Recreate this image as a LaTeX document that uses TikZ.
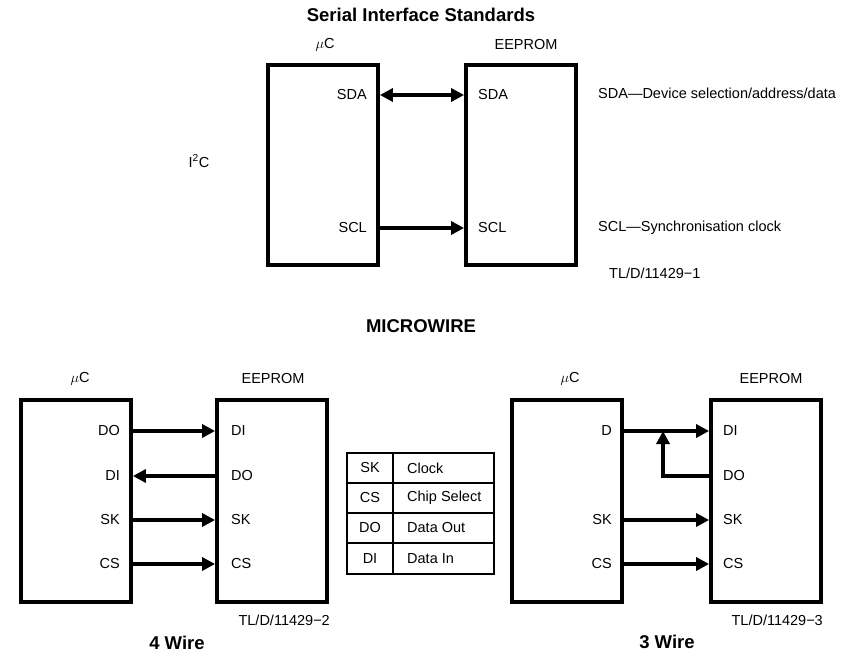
\documentclass[tikz,border=0pt]{standalone}
\usepackage{fontspec}
\setmainfont{Liberation Sans}
\usetikzlibrary{arrows.meta}
\tikzset{
  chip/.style={draw, line width=3.8pt, inner sep=0pt},
  bus/.style={line width=3.2pt, -{Triangle[length=13pt,width=13pt]}},
  pinlbl/.style={font=\fontsize{14.5}{17}\selectfont, inner sep=0pt},
  lbl/.style={font=\fontsize{14.5}{17}\selectfont, inner sep=0pt},
  head/.style={font=\fontsize{18.5}{22}\selectfont\bfseries, inner sep=0pt},
  grid/.style={line width=1.2pt},
}
\begin{document}
\begin{tikzpicture}[x=1pt,y=-1pt]
  \useasboundingbox (0,0) rectangle (849,658);

  % I2C
  \node[head] (ttl) at (421,15) {Serial Interface Standards};
  \node[chip, minimum width=110pt, minimum height=200pt] (uc1) at (323,165) {};
  \node[chip, minimum width=110pt, minimum height=200pt] (ee1) at (521,165) {};
  \node[lbl] (uclbl1) at (325,45) {$\mu$C};
  \node[lbl] (eelbl1) at (526,45) {EEPROM};
  \node[lbl] (itc) at (199,161) {I\textsuperscript{2}C};
  \node[pinlbl, anchor=east] (ucsda) at (367,95) {SDA};
  \node[pinlbl, anchor=east] (ucscl) at (367,228) {SCL};
  \node[pinlbl, anchor=west] (eesda) at (478,95) {SDA};
  \node[pinlbl, anchor=west] (eescl) at (478,228) {SCL};
  \draw[bus, {Triangle[length=13pt,width=13pt]}-{Triangle[length=13pt,width=13pt]}]
    (uc1.east |- ucsda) -- (ee1.west |- eesda);
  \draw[bus] (uc1.east |- ucscl) -- (ee1.west |- eescl);
  \node[lbl, anchor=west] (dsda) at (598,93) {SDA—Device selection/address/data};
  \node[lbl, anchor=west] (dscl) at (598,228) {SCL—Synchronisation clock};
  \node[lbl, anchor=west] (tl1) at (609,273) {TL/D/11429−1};

  \node[head] (mw) at (421,326) {MICROWIRE};

  % 4 wire
  \node[chip, minimum width=110pt, minimum height=202pt] (uc2) at (76,501) {};
  \node[chip, minimum width=110pt, minimum height=202pt] (ee2) at (272,501) {};
  \node[lbl] (uclbl2) at (80,379) {$\mu$C};
  \node[lbl] (eelbl2) at (273,379) {EEPROM};
  \node[pinlbl, anchor=east] (ucdo2) at (120,431) {DO};
  \node[pinlbl, anchor=east] (ucdi2) at (120,476) {DI};
  \node[pinlbl, anchor=east] (ucsk2) at (120,520) {SK};
  \node[pinlbl, anchor=east] (uccs2) at (120,564) {CS};
  \node[pinlbl, anchor=west] (eedi2) at (231,431) {DI};
  \node[pinlbl, anchor=west] (eedo2) at (231,476) {DO};
  \node[pinlbl, anchor=west] (eesk2) at (231,520) {SK};
  \node[pinlbl, anchor=west] (eecs2) at (231,564) {CS};
  \draw[bus] (uc2.east |- ucdo2) -- (ee2.west |- eedi2);
  \draw[bus] (ee2.west |- eedo2) -- (uc2.east |- ucdi2);
  \draw[bus] (uc2.east |- ucsk2) -- (ee2.west |- eesk2);
  \draw[bus] (uc2.east |- uccs2) -- (ee2.west |- eecs2);
  \node[lbl, anchor=east] (tl2) at (330,620) {TL/D/11429−2};
  \node[head] (w4) at (177,643) {4 Wire};

  % table
  \draw[grid] (347,453) rectangle (494,574);
  \draw[grid] (393,453) -- (393,574);
  \foreach \y in {483,513,543} \draw[grid] (347,\y) -- (494,\y);
  \node[lbl] (tsk) at (370,468) {SK};
  \node[lbl] (tcs) at (370,498) {CS};
  \node[lbl] (tdo) at (370,528) {DO};
  \node[lbl] (tdi) at (370,558.5) {DI};
  \node[lbl, anchor=west] (tclk) at (407,468) {Clock};
  \node[lbl, anchor=west] (tsel) at (407,498) {Chip Select};
  \node[lbl, anchor=west] (tout) at (407,528) {Data Out};
  \node[lbl, anchor=west] (tin) at (407,558.5) {Data In};

  % 3 wire
  \node[chip, minimum width=110pt, minimum height=202pt] (uc3) at (567,501) {};
  \node[chip, minimum width=110pt, minimum height=202pt] (ee3) at (766,501) {};
  \node[lbl] (uclbl3) at (570,379) {$\mu$C};
  \node[lbl] (eelbl3) at (771,379) {EEPROM};
  \node[pinlbl, anchor=east] (ucd3) at (612,431) {D};
  \node[pinlbl, anchor=east] (ucsk3) at (612,520) {SK};
  \node[pinlbl, anchor=east] (uccs3) at (612,564) {CS};
  \node[pinlbl, anchor=west] (eedi3) at (723,431) {DI};
  \node[pinlbl, anchor=west] (eedo3) at (723,476) {DO};
  \node[pinlbl, anchor=west] (eesk3) at (723,520) {SK};
  \node[pinlbl, anchor=west] (eecs3) at (723,564) {CS};
  \coordinate (jn) at (663,431);
  \draw[bus] (uc3.east |- ucd3) -- (ee3.west |- eedi3);
  \draw[bus] (ee3.west |- eedo3) -| (jn);
  \draw[bus] (uc3.east |- ucsk3) -- (ee3.west |- eesk3);
  \draw[bus] (uc3.east |- uccs3) -- (ee3.west |- eecs3);
  \node[lbl, anchor=east] (tl3) at (823,620) {TL/D/11429−3};
  \node[head] (w3) at (667,642) {3 Wire};
\end{tikzpicture}
\end{document}
